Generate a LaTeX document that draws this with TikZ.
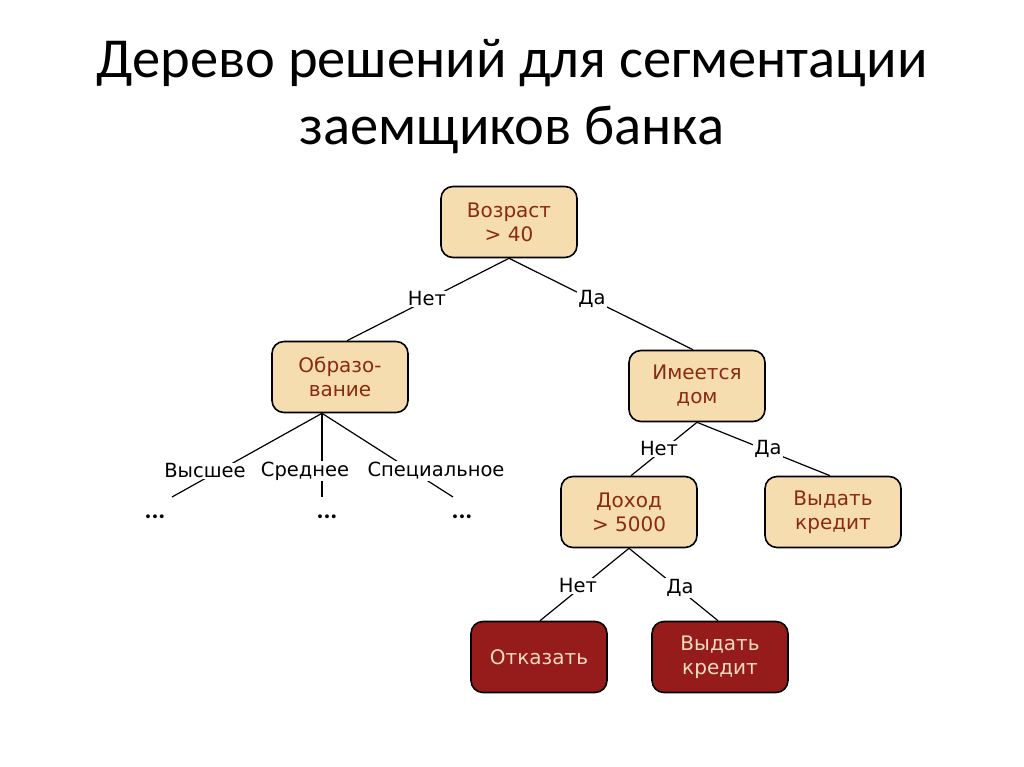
\documentclass[tikz,border=0pt]{standalone}
\usepackage{fontspec}
\setmainfont{Carlito}
\newfontfamily\nodefont{DejaVu Sans}
\definecolor{lightbox}{HTML}{F6DDB0}
\definecolor{darkbox}{HTML}{961B1B}
\definecolor{lighttext}{HTML}{8A2A10}
\definecolor{darktext}{HTML}{F3DCC0}
\tikzset{
  box/.style={draw=black, line width=1.6pt, rounded corners=12pt, minimum width=136pt, minimum height=71pt, align=center, font=\nodefont\fontsize{20}{24}\selectfont},
  lightnode/.style={box, fill=lightbox, text=lighttext},
  darknode/.style={box, fill=darkbox, text=darktext},
  edge/.style={line width=1.2pt, draw=black},
  lbl/.style={fill=white, inner sep=1pt, font=\nodefont\fontsize{19.5}{22}\selectfont},
  dots/.style={font=\bfseries\fontsize{26}{28}\selectfont},
  titletext/.style={anchor=base, font=\fontsize{56.5}{63}\selectfont}
}
\begin{document}
\begin{tikzpicture}[x=1pt,y=-1pt]
\useasboundingbox[fill=white] (0,0) rectangle (1024,767);
\node[titletext] (title1) at (512,78) {Дерево решений для сегментации};
\node[titletext] (title2) at (512,145) {заемщиков банка};

\node[lightnode] (age) at (509,222) {Возраст\\> 40};
\node[lightnode] (edu) at (340,377) {Образо-\\вание};
\node[lightnode] (house) at (697,386) {Имеется\\дом};
\node[lightnode] (income) at (629,512) {Доход\\> 5000};
\node[lightnode] (give1) at (833,512) {Выдать\\кредит};
\node[darknode] (refuse) at (539,657) {Отказать};
\node[darknode] (give2) at (720,657) {Выдать\\кредит};

\coordinate (e1) at (172,497);
\coordinate (e2) at (322,497);
\coordinate (e3) at (453,497);

\draw[edge] (age.south) -- (edu.north -| 347,0);
\draw[edge] (age.south) -- (house.north -| 693,0);
\draw[edge] (edu.south -| 322,0) -- (e1);
\draw[edge] (edu.south -| 322,0) -- (e2);
\draw[edge] (edu.south -| 322,0) -- (e3);
\draw[edge] (house.south) -- (income.north -| 631,0);
\draw[edge] (house.south) -- (give1.north -| 830,0);
\draw[edge] (income.south) -- (refuse.north -| 540,0);
\draw[edge] (income.south) -- (give2.north -| 718,0);

\node[lbl] (l1) at (427,299) {Нет};
\node[lbl] (l2) at (592,299) {Да};
\node[lbl] (l3) at (205,471) {Высшее};
\node[lbl] (l4) at (305,471) {Среднее};
\node[lbl] (l5) at (436,471) {Специальное};
\node[lbl] (l6) at (659,449) {Нет};
\node[lbl] (l7) at (768,449) {Да};
\node[lbl] (l8) at (578,586) {Нет};
\node[lbl] (l9) at (680,588) {Да};

\node[dots] (d1) at (155,517) {...};
\node[dots] (d2) at (327,517) {...};
\node[dots] (d3) at (462,517) {...};
\end{tikzpicture}
\end{document}
